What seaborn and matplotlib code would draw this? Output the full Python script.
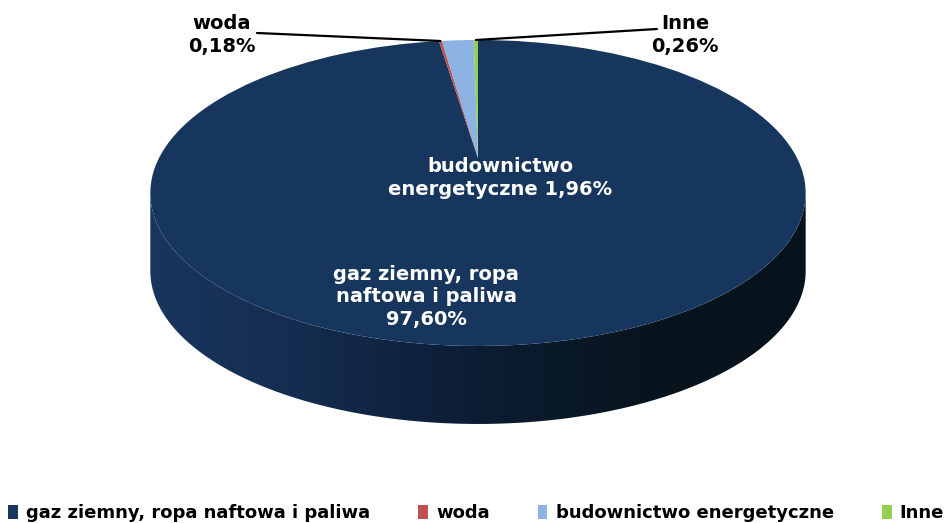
import numpy as np
import matplotlib
matplotlib.use('Agg')
import matplotlib.pyplot as plt
import seaborn as sns
from matplotlib.transforms import Transform
from matplotlib.patches import Polygon, Patch
from matplotlib.colors import LinearSegmentedColormap

# data
categories = ['gaz ziemny, ropa naftowa i paliwa', 'woda', 'budownictwo energetyczne', 'Inne']
shares = [97.60, 0.18, 1.96, 0.26]
slice_labels = ['gaz ziemny, ropa\nnaftowa i paliwa\n97,60%', 'woda\n0,18%',
                'budownictwo\nenergetyczne 1,96%', 'Inne\n0,26%']
colors = ['#17365D', '#C0504D', '#8DB3E2', '#92D050']

sns.set_theme(style='white')
plt.rcParams['font.family'] = ['DejaVu Sans']

# geometry of the tilted pie (pixels)
CX, CY, RX, RY, TILT, DEPTH = 478, 158, 319, 145, 0.2286, 78


class Perspective(Transform):
    """unit pie disc -> tilted disc seen in perspective"""
    input_dims = output_dims = 2

    def transform_non_affine(self, values):
        v = np.asarray(values, dtype=float)
        w = 1 + TILT * v[:, 1]
        return np.column_stack([CX + RX * v[:, 0] / w, CY - RY * v[:, 1] / w])


persp = Perspective()

fig = plt.figure(figsize=(9.5, 5.23), dpi=100)
ax = fig.add_axes([0, 0, 1, 1])

wedges, _ = ax.pie(shares, colors=colors, startangle=90, counterclock=False,
                   wedgeprops=dict(linewidth=0, zorder=3))
for w in wedges:
    w.set_transform(persp + ax.transData)

# side of the cylinder (front half only is visible)
phi = np.linspace(np.pi + np.arcsin(TILT), 2 * np.pi - np.arcsin(TILT), 200)
top = persp.transform(np.column_stack([np.cos(phi), np.sin(phi)]))
bottom = top[::-1] + [0, DEPTH]
side = Polygon(np.vstack([top, bottom]), closed=True, facecolor='none',
               edgecolor='none', transform=ax.transData)
ax.add_patch(side)
side_cmap = LinearSegmentedColormap.from_list(
    'side', ['#19365e', '#142b4d', '#0c1d33', '#08151f', '#07131c'])
grad = np.linspace(0, 1, 256).reshape(1, -1)
im = ax.imshow(grad, cmap=side_cmap, aspect='auto', zorder=2,
               extent=(top[:, 0].min(), top[:, 0].max(), bottom[:, 1].max(), top[:, 1].min()))
im.set_clip_path(side)

# labels
bold = dict(fontsize=14, fontweight='bold', ha='center', va='center', linespacing=1.25)
ax.text(426, 297, slice_labels[0], color='white', zorder=5, **bold)
ax.text(500, 178, slice_labels[2], color='white', zorder=5, **bold)
ax.text(222, 35, slice_labels[1], color='black', zorder=5, **bold)
ax.text(685, 35, slice_labels[3], color='black', zorder=5, **bold)

# leader lines to the thin slices
cum = np.cumsum([0] + shares[:-1])
mid = np.deg2rad(90 - 360 * (cum + np.array(shares) / 2) / 100)
edge = persp.transform(np.column_stack([np.cos(mid), np.sin(mid)]))
ax.plot([257, edge[1, 0]], [33, edge[1, 1]], color='black', lw=1.6, zorder=4)
ax.plot([657, edge[3, 0]], [29, edge[3, 1]], color='black', lw=1.6, zorder=4)

handles = [Patch(facecolor=c, edgecolor='none') for c in colors]
ax.legend(handles, categories, loc='center left', bbox_to_anchor=(8 / 950, 10 / 523),
          bbox_transform=fig.transFigure, ncol=4, frameon=False, labelcolor='black',
          prop=dict(size=13, weight='bold'), handlelength=0.55, handleheight=0.8,
          handletextpad=0.45, columnspacing=2.65, borderpad=0, borderaxespad=0)

ax.set_aspect('auto')
ax.set_xlim(0, 950)
ax.set_ylim(523, 0)
ax.axis('off')

fig.savefig('out.png', dpi=100)
